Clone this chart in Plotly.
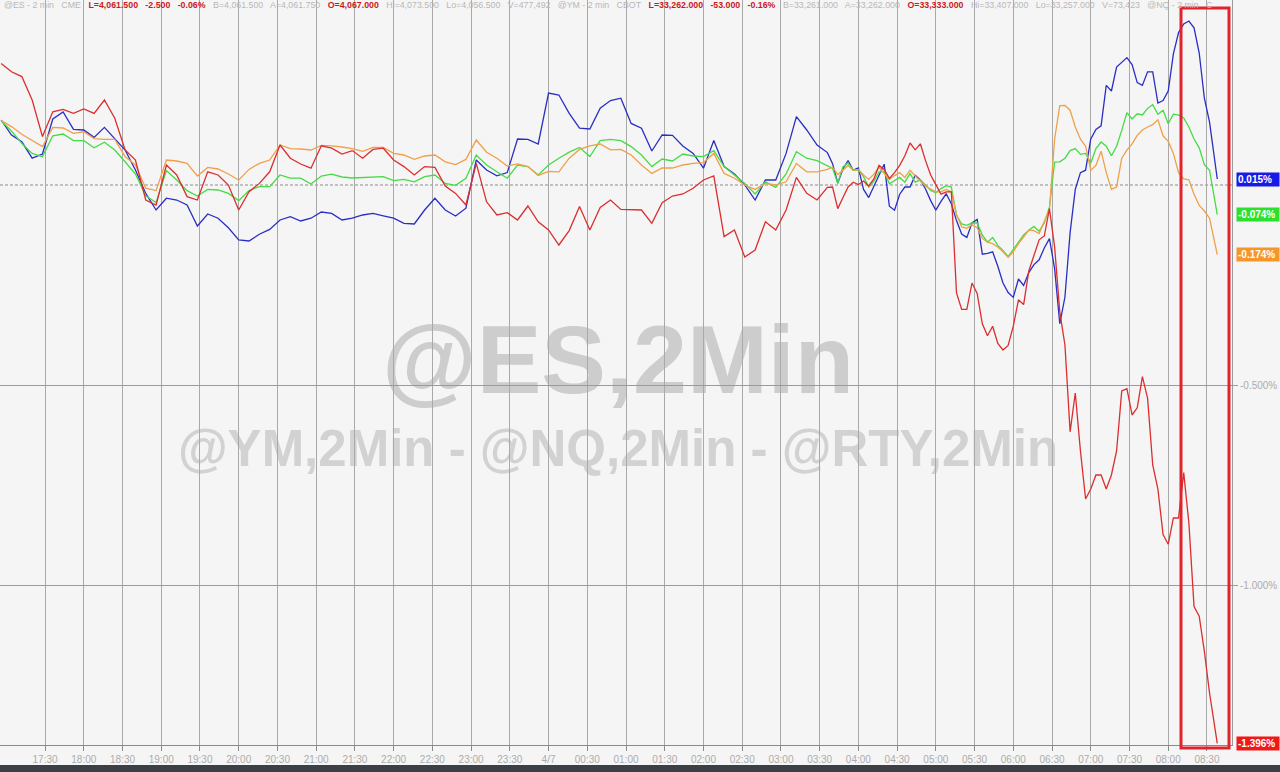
import plotly.graph_objects as go
import pandas as pd

# ---------------- data (percent change) ----------------
# 8-minute readings until 03:28, 4-minute readings from 03:36, last print 08:38
times = (list(pd.date_range("2023-04-06 16:56", periods=80, freq="8min"))
         + list(pd.date_range("2023-04-07 03:36", periods=75, freq="4min"))
         + [pd.Timestamp("2023-04-07 08:38")])

nq = [0.1625, 0.125, 0.108, 0.067, 0.0775, 0.165, 0.1825, 0.139, 0.1375, 0.119, 0.144, 0.115, 0.0875, 0.0375,
      -0.021, -0.0625, -0.033, -0.0375, -0.05, -0.1025, -0.0725, -0.083, -0.107, -0.1375, -0.14, -0.123, -0.111,
      -0.0875, -0.079, -0.09, -0.083, -0.0675, -0.071, -0.0875, -0.083, -0.075, -0.071, -0.077, -0.083, -0.096,
      -0.0975,
      -0.0625, -0.033, -0.0625, -0.0775, -0.058, 0.0625, 0.0375, 0.023, 0.031, 0.115, 0.114, 0.1025, 0.23, 0.225,
      0.179, 0.142, 0.14, 0.192, 0.211, 0.217, 0.154, 0.142, 0.085, 0.125, 0.124, 0.0975, 0.079, 0.042, 0.111,
      0.046, 0.0275, 0.0, -0.0375, 0.0125, 0.0125, 0.079, 0.171, 0.1375, 0.1,
      # 4-minute section
      0.081, 0.0535, 0.0045, 0.04, 0.061, 0.037, 0.043, -0.011, -0.0315, -0.003,
      0.025, 0.052, -0.053, -0.063, -0.023, -0.005, -0.005, 0.024, 0.013, -0.01,
      -0.039, -0.063, -0.041, -0.022, -0.047, -0.089, -0.1225, -0.131, -0.095, -0.086,
      -0.173, -0.171, -0.167, -0.203, -0.245, -0.269, -0.281, -0.235, -0.251, -0.219,
      -0.199, -0.187, -0.1575, -0.134, -0.209, -0.347, -0.28, -0.119, -0.011, 0.031,
      0.037, 0.115, 0.139, 0.148, 0.249, 0.235, 0.295, 0.307, 0.3185, 0.301,
      0.256, 0.249, 0.283, 0.283, 0.205, 0.211, 0.235, 0.328, 0.381, 0.4025,
      0.41, 0.393, 0.33, 0.217, 0.157,
      0.015]

es = [0.16, 0.135, 0.104, 0.079, 0.071, 0.123, 0.1275, 0.111, 0.111, 0.093, 0.107, 0.0875, 0.058, 0.0275,
      -0.027, -0.044, 0.036, 0.0125, -0.014, -0.0275, -0.011, -0.0125, -0.021, -0.039, -0.014, -0.004, -0.004,
      0.025, 0.017, 0.017, 0.0025, 0.0225, 0.027, 0.02, 0.0175, 0.019, 0.02, 0.021, 0.011, 0.014, 0.008,
      0.021, 0.025, 0.004, -0.001, 0.017, 0.075, 0.05, 0.033, 0.017, 0.05, 0.046, 0.025, 0.05, 0.067, 0.082,
      0.094, 0.071, 0.111, 0.114, 0.111, 0.096, 0.075, 0.046, 0.065, 0.06, 0.0775, 0.0725, 0.071, 0.086, 0.046,
      0.025, 0.004, -0.0225, 0.008, -0.006, 0.0275, 0.083, 0.067, 0.061,
      # 4-minute section
      0.0475, 0.0415, 0.0045, 0.045, 0.055, 0.037, 0.037, 0.021, -0.005, 0.009,
      0.033, 0.034, 0.003, 0.012, 0.019, 0.007, 0.0285, 0.007, 0.013, 0.0,
      -0.0135, -0.0195, -0.009, -0.0015, -0.005, -0.075, -0.0975, -0.101, -0.095, -0.095,
      -0.125, -0.143, -0.131, -0.151, -0.1635, -0.179, -0.161, -0.143, -0.125, -0.113,
      -0.1035, -0.1155, -0.095, -0.0555, 0.057, 0.058, 0.067, 0.086, 0.091, 0.0765,
      0.079, 0.055, 0.091, 0.1075, 0.097, 0.073, 0.097, 0.1365, 0.181, 0.165,
      0.178, 0.175, 0.1915, 0.201, 0.177, 0.187, 0.153, 0.177, 0.175, 0.1675,
      0.145, 0.115, 0.093, 0.051, 0.037,
      -0.074]

ym = [0.161, 0.146, 0.127, 0.1125, 0.096, 0.144, 0.1425, 0.129, 0.133, 0.116, 0.114, 0.114, 0.071, 0.05,
      -0.008, -0.014, 0.0625, 0.06, 0.054, 0.0225, 0.044, 0.04, 0.0275, 0.0125, 0.039, 0.054, 0.0625, 0.1,
      0.091, 0.09, 0.0875, 0.099, 0.098, 0.095, 0.091, 0.084, 0.094, 0.094, 0.079, 0.075, 0.064,
      0.0725, 0.075, 0.058, 0.051, 0.064, 0.1125, 0.082, 0.067, 0.0475, 0.053, 0.046, 0.024, 0.034, 0.033,
      0.067, 0.089, 0.098, 0.1025, 0.088, 0.089, 0.075, 0.05, 0.029, 0.0425, 0.0425, 0.05, 0.054, 0.056, 0.079,
      0.029, 0.017, 0.0, -0.011, 0.004, 0.0, 0.008, 0.054, 0.033, 0.033,
      # 4-minute section
      0.039, 0.045, 0.026, 0.037, 0.049, 0.037, 0.039, 0.025, 0.014, 0.027,
      0.045, 0.0285, 0.014, 0.0235, 0.031, 0.019, 0.037, 0.0225, 0.009, -0.003,
      -0.01, -0.017, -0.017, -0.011, -0.017, -0.0735, -0.105, -0.108, -0.099, -0.107,
      -0.1335, -0.143, -0.1465, -0.155, -0.167, -0.181, -0.167, -0.1465, -0.13, -0.113,
      -0.114, -0.1215, -0.0915, -0.0615, 0.115, 0.1985, 0.199, 0.187, 0.145, 0.1145,
      0.097, 0.037, 0.049, 0.0845, 0.031, -0.011, -0.005, 0.067, 0.087, 0.103,
      0.124, 0.1375, 0.145, 0.151, 0.163, 0.123, 0.109, 0.079, 0.031, 0.015,
      0.013, -0.023, -0.051, -0.065, -0.083,
      -0.174]

rty = [0.304, 0.283, 0.271, 0.2125, 0.121, 0.183, 0.189, 0.179, 0.19, 0.179, 0.2125, 0.167, 0.0875, 0.0625,
       -0.0375, -0.05, 0.05, 0.025, -0.029, -0.0375, 0.033, 0.025, 0.0, -0.0625, -0.017, 0.004, 0.033, 0.1,
       0.067, 0.0525, 0.042, 0.098, 0.092, 0.0775, 0.086, 0.067, 0.089, 0.092, 0.0625, 0.046, 0.025,
       0.046, 0.044, -0.0025, -0.021, -0.05, 0.054, -0.042, -0.075, -0.069, -0.0875, -0.0525, -0.092, -0.1125,
       -0.15, -0.114, -0.054, -0.1125, -0.056, -0.0375, -0.061, -0.0625, -0.0625, -0.096, -0.044, -0.0275,
       -0.0225, -0.008, 0.0125, 0.0225, -0.129, -0.1125, -0.18, -0.1625, -0.092, -0.1125, -0.0625, 0.019,
       -0.021, -0.0375,
       # 4-minute section
       -0.006, -0.005, -0.059, -0.032, -0.005, 0.007, 0.001, 0.01, -0.0025, 0.015,
       0.049, 0.039, 0.0165, 0.031, 0.049, 0.073, 0.105, 0.088, 0.103, 0.061,
       0.025, 0.001, -0.023, -0.017, -0.017, -0.27, -0.311, -0.311, -0.245, -0.271,
       -0.347, -0.377, -0.353, -0.396, -0.4125, -0.401, -0.353, -0.287, -0.299, -0.215,
       -0.173, -0.137, -0.1275, -0.059, -0.155, -0.317, -0.40, -0.617, -0.52, -0.665,
       -0.785, -0.76, -0.725, -0.725, -0.76, -0.725, -0.665, -0.515, -0.509, -0.575,
       -0.557, -0.479, -0.533, -0.70, -0.76, -0.874, -0.898, -0.832, -0.8325, -0.719,
       -0.845, -1.054, -1.078, -1.166, -1.27,
       -1.396]

series_names = ["@NQ", "@ES", "@YM", "@RTY"]
series_values = [nq, es, ym, rty]
line_colors = ["#2a2ec4", "#44dc44", "#f0a048", "#dc2e2e"]
badge_colors = ["#1a1ae6", "#2ee02e", "#f5962a", "#f01818"]

tick_vals = list(pd.date_range("2023-04-06 17:30", "2023-04-07 08:30", freq="30min"))
tick_text = ["17:30", "18:00", "18:30", "19:00", "19:30", "20:00", "20:30", "21:00", "21:30", "22:00",
             "22:30", "23:00", "23:30", "4/7", "00:30", "01:00", "01:30", "02:00", "02:30", "03:00",
             "03:30", "04:00", "04:30", "05:00", "05:30", "06:00", "06:30", "07:00", "07:30", "08:00", "08:30"]

y_tick_vals = [-1.0, -0.5]
y_tick_text = ["-1.000%", "-0.500%"]

# quote header: (text, highlighted)
header_parts = [
    ("@ES - 2 min  CME", False),
    ("L=4,061.500  -2.500  -0.06%", True),
    ("B=4,061.500  A=4,061.750", False),
    ("O=4,067.000", True),
    ("Hi=4,073.500  Lo=4,056.500  V=477,492  @YM - 2 min  CBOT", False),
    ("L=33,262.000  -53.000  -0.16%", True),
    ("B=33,261.000  A=33,262.000", False),
    ("O=33,333.000", True),
    ("Hi=33,407.000  Lo=33,257.000  V=73,423  @NQ - 2 min  C", False),
]

# ---------------- layout geometry ----------------
W, H = 1280, 772
ML, MR, MT, MB = 0, 48, 0, 27
PW, PH = W - ML - MR, H - MT - MB


def px_x(x):
    return (x - ML) / PW


def px_y(y):
    return 1 - (y - MT) / PH


FONT = "Liberation Sans, Arial, sans-serif"
BG = "#f5f5f5"
GRID = "#a9a9a9"

fig = go.Figure()
for name, vals, col in zip(series_names, series_values, line_colors):
    fig.add_trace(go.Scatter(x=times, y=vals, mode="lines", name=name,
                             line=dict(color=col, width=1.3), hoverinfo="skip"))

shapes = []
# watermark texts (below the lines)
shapes.append(dict(type="rect", xref="paper", yref="paper", x0=px_x(300), x1=px_x(936),
                   y0=px_y(405), y1=px_y(295), line=dict(width=0), fillcolor="rgba(0,0,0,0)",
                   layer="below",
                   label=dict(text="@ES,2Min", textposition="middle center",
                              font=dict(family=FONT, size=97, color="#cdcdcd", weight="bold"))))
shapes.append(dict(type="rect", xref="paper", yref="paper", x0=px_x(110), x1=px_x(1126),
                   y0=px_y(470), y1=px_y(416), line=dict(width=0), fillcolor="rgba(0,0,0,0)",
                   layer="below",
                   label=dict(text="@YM,2Min - @NQ,2Min - @RTY,2Min", textposition="middle center",
                              font=dict(family=FONT, size=51, color="#d2d2d2", weight="bold"))))
# zero line dashed
shapes.append(dict(type="line", xref="paper", yref="y", x0=0, x1=1, y0=0, y1=0,
                   line=dict(color="#8c8c8c", width=1, dash="3px,2px"), layer="below"))
# highlight box
shapes.append(dict(type="rect", xref="paper", yref="paper", x0=px_x(1181), x1=px_x(1229),
                   y0=px_y(748), y1=px_y(8), line=dict(color="#e0242c", width=3),
                   fillcolor="rgba(0,0,0,0)", layer="above"))
# dark footer band
shapes.append(dict(type="rect", xref="paper", yref="paper", x0=px_x(0), x1=px_x(W),
                   y0=px_y(772), y1=px_y(765), line=dict(width=0), fillcolor="#3b4046", layer="above"))

NB = "\u00a0"
pieces = []
for text, hot in header_parts:
    t = text.replace("  ", NB + NB + " ")
    if hot:
        pieces.append(f'<span style="color:#cc1a1a;font-size:8.8px"><b>{t}</b></span>')
    else:
        pieces.append(f'<span style="color:#b8b8b8;font-size:8.8px">{t}</span>')
header_html = (NB + NB + " ").join(pieces)

annotations = [dict(text=header_html, xref="paper", yref="paper", x=px_x(2), y=px_y(5.5),
                    xanchor="left", yanchor="middle", showarrow=False,
                    font=dict(family=FONT, size=9, color="#b8b8b8"))]

for vals, col in zip(series_values, badge_colors):
    last = vals[-1]
    annotations.append(dict(text=f"{last:.3f}%", xref="paper", yref="y", x=px_x(1236), y=last,
                            xanchor="left", yanchor="middle", showarrow=False, bgcolor=col,
                            borderpad=1, width=40, align="left",
                            font=dict(family=FONT, size=10, color="white", weight="bold")))

fig.update_layout(
    width=W, height=H,
    margin=dict(l=ML, r=MR, t=MT, b=MB, pad=0),
    paper_bgcolor=BG, plot_bgcolor=BG,
    showlegend=False,
    font=dict(family=FONT),
    shapes=shapes,
    annotations=annotations,
    xaxis=dict(range=[pd.Timestamp("2023-04-06 16:55:06"), pd.Timestamp("2023-04-07 08:49:24")],
               tickvals=tick_vals, ticktext=tick_text,
               showgrid=True, gridcolor=GRID, gridwidth=1,
               showline=True, linecolor="#8a8a8a", linewidth=1,
               ticks="outside", ticklen=5, tickcolor="#8a8a8a",
               tickfont=dict(family=FONT, size=10, color="#acacac"),
               zeroline=False, fixedrange=True),
    yaxis=dict(range=[-1.4, 0.4625], side="right",
               tickvals=y_tick_vals, ticktext=y_tick_text,
               showgrid=True, gridcolor="#9a9a9a", gridwidth=1,
               showline=True, linecolor="#9a9a9a", linewidth=1,
               ticks="outside", ticklen=5, tickcolor="#9a9a9a",
               tickfont=dict(family=FONT, size=10, color="#acacac"),
               zeroline=False, fixedrange=True),
)

fig.write_html("out.html", config={"displayModeBar": False},
               post_script="document.body.style.margin='0';document.body.style.overflow='hidden';")
